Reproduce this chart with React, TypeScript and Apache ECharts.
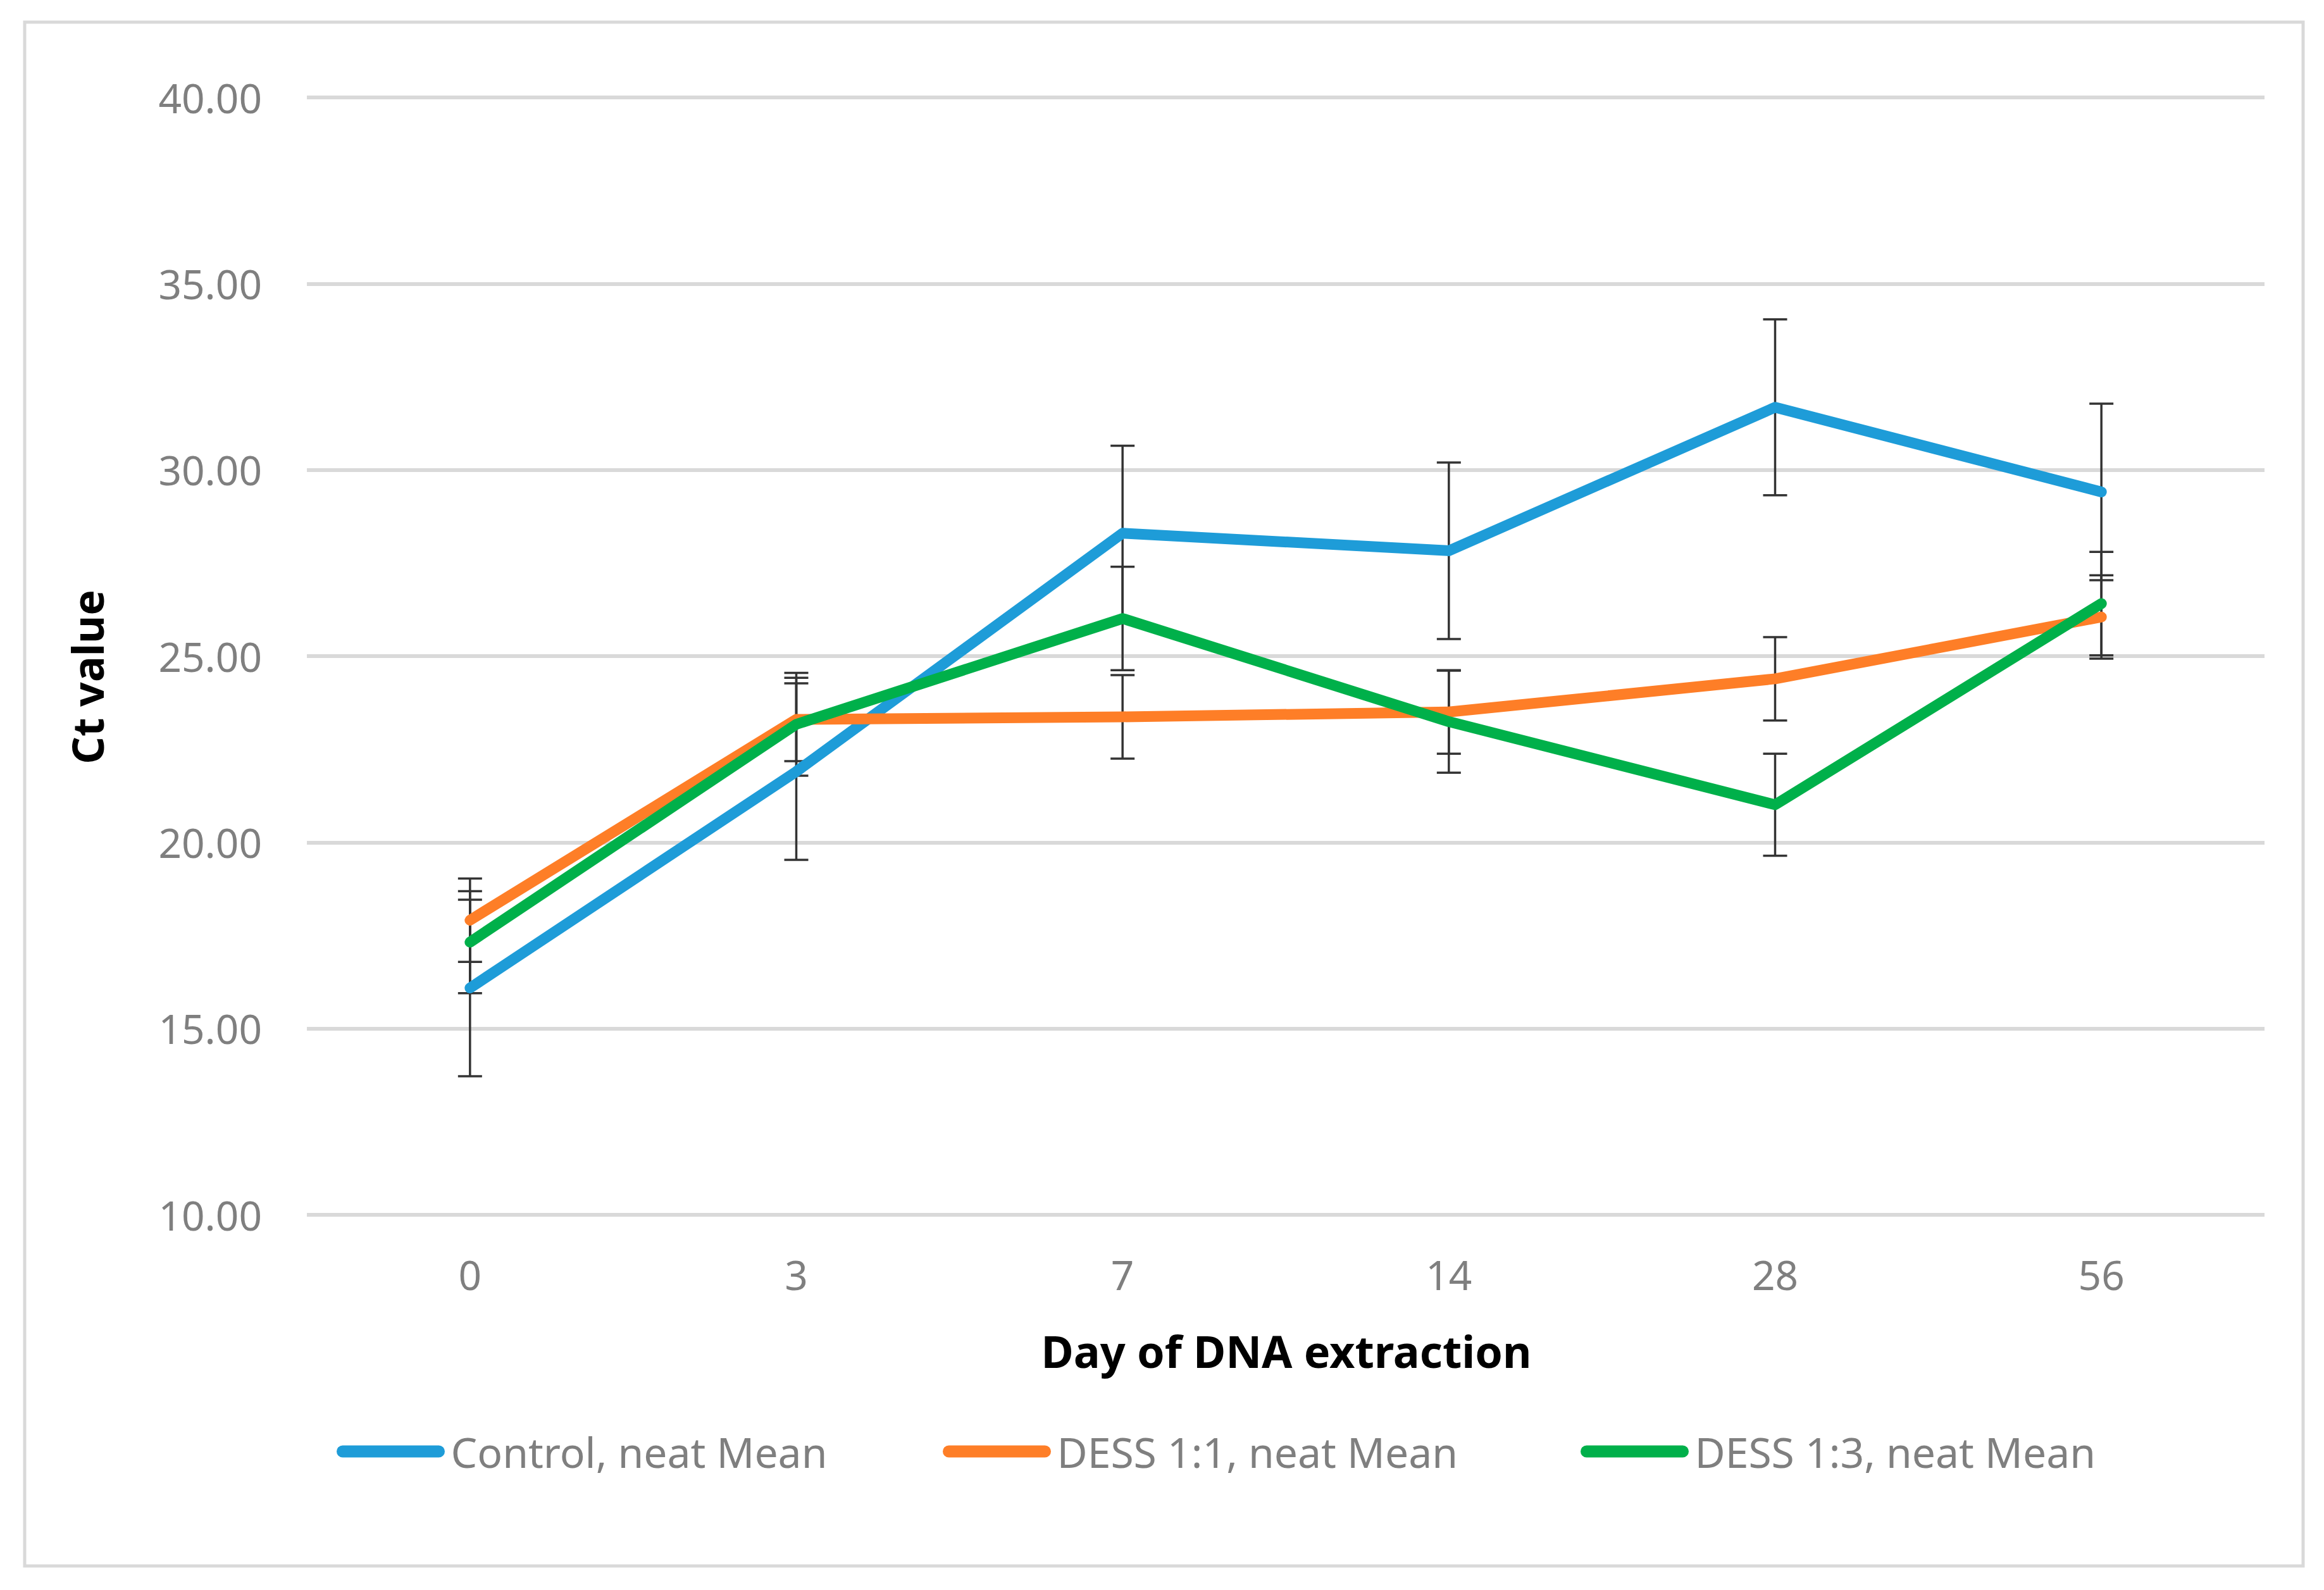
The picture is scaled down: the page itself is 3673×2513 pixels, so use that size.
import React, { useEffect, useRef } from "react";
import * as echarts from "echarts";

const categories = ["0", "3", "7", "14", "28", "56"];
const seriesNames = ["Control, neat Mean", "DESS 1:1, neat Mean", "DESS 1:3, neat Mean"];
const seriesColors = ["#1E9CD8", "#FE7E27", "#00B04A"];
const controlMean = [16.09, 21.9, 28.3, 27.83, 31.68, 29.41];
const controlErr = [2.37, 2.37, 2.35, 2.37, 2.36, 2.37];
const dess11Mean = [17.91, 23.3, 23.37, 23.5, 24.39, 26.05];
const dess11Err = [1.12, 1.12, 1.12, 1.12, 1.12, 1.12];
const dess13Mean = [17.32, 23.17, 26.01, 23.24, 21.01, 26.41];
const dess13Err = [1.37, 1.38, 1.39, 1.37, 1.37, 1.39];
const yMin = 10;
const yMax = 40;
const yStep = 5;
const xTitle = "Day of DNA extraction";
const yTitle = "Ct value";
const legendLefts = [532, 1490, 2498];

const FONT = "Noto Sans";
const capsule = "path://M10,0 L170,0 A10,10 0 0 1 170,20 L10,20 A10,10 0 0 1 10,0 Z";

export default function App() {
  const ref = useRef<HTMLDivElement>(null);
  useEffect(() => {
    if (!ref.current) return;
    const chart = echarts.init(ref.current, undefined, { renderer: "svg" });
    const means = [controlMean, dess11Mean, dess13Mean];
    const errs = [controlErr, dess11Err, dess13Err];

    const errSeries = means.map((m, si) => ({
      type: "custom",
      name: seriesNames[si] + " error",
      z: 1,
      encode: { x: 0, y: [1, 2] },
      data: m.map((v, i) => [i, v - errs[si][i], v + errs[si][i]]),
      renderItem: (params: any, api: any) => {
        const x = api.value(0);
        const lo = api.coord([x, api.value(1)]);
        const hi = api.coord([x, api.value(2)]);
        const hw = 19;
        const style = { stroke: "#333333", lineWidth: 3.5 };
        return {
          type: "group",
          children: [
            { type: "line", shape: { x1: lo[0], y1: lo[1], x2: hi[0], y2: hi[1] }, style },
            { type: "line", shape: { x1: lo[0] - hw, y1: lo[1], x2: lo[0] + hw, y2: lo[1] }, style },
            { type: "line", shape: { x1: hi[0] - hw, y1: hi[1], x2: hi[0] + hw, y2: hi[1] }, style },
          ],
        };
      },
    }));

    const lineSeries = means.map((m, si) => ({
      type: "line",
      name: seriesNames[si],
      z: 3,
      data: m,
      showSymbol: false,
      symbol: "none",
      color: seriesColors[si],
      itemStyle: { color: seriesColors[si] },
      lineStyle: { width: 17, color: seriesColors[si], cap: "round", join: "round" },
    }));

    const legends = seriesNames.map((n, i) => ({
      left: legendLefts[i],
      top: 2261,
      padding: 0,
      data: [n],
      icon: capsule,
      itemWidth: 180,
      itemHeight: 19,
      selectedMode: false,
      textStyle: { fontFamily: FONT, fontSize: 66, color: "#7F7F7F", lineHeight: 66 },
    }));

    chart.setOption({
      animation: false,
      backgroundColor: "#FFFFFF",
      grid: { left: 485, right: 94, top: 154, bottom: 593, containLabel: false },
      xAxis: {
        type: "category",
        data: categories,
        boundaryGap: true,
        axisLine: { show: false },
        axisTick: { show: false },
        axisLabel: { margin: 62, fontFamily: FONT, fontSize: 64, color: "#7F7F7F" },
        splitLine: { show: false },
      },
      yAxis: {
        type: "value",
        min: yMin,
        max: yMax,
        interval: yStep,
        axisLine: { show: false },
        axisTick: { show: false },
        axisLabel: {
          margin: 71,
          fontFamily: FONT,
          fontSize: 64,
          color: "#7F7F7F",
          formatter: (v: number) => v.toFixed(2),
        },
        splitLine: { show: true, lineStyle: { color: "#D9D9D9", width: 6 } },
      },
      legend: legends,
      graphic: [
        {
          type: "rect",
          z: -10,
          shape: { x: 39, y: 35, width: 3601, height: 2440 },
          style: { fill: "none", stroke: "#D9D9D9", lineWidth: 5 },
        },
        {
          type: "text",
          x: 2033,
          y: 2135,
          style: {
            text: xTitle,
            fontFamily: FONT,
            fontSize: 70,
            fontWeight: "bold",
            fill: "#000000",
            align: "center",
            verticalAlign: "middle",
          },
        },
        {
          type: "text",
          x: 137,
          y: 1070,
          rotation: Math.PI / 2,
          style: {
            text: yTitle,
            fontFamily: FONT,
            fontSize: 68,
            fontWeight: "bold",
            fill: "#000000",
            align: "center",
            verticalAlign: "middle",
          },
        },
      ],
      series: [...errSeries, ...lineSeries],
    });
    return () => chart.dispose();
  }, []);
  return (
    <div
      ref={ref}
      style={{ position: "fixed", left: 0, top: 0, width: "3673px", height: "2513px", background: "#fff" }}
    />
  );
}
